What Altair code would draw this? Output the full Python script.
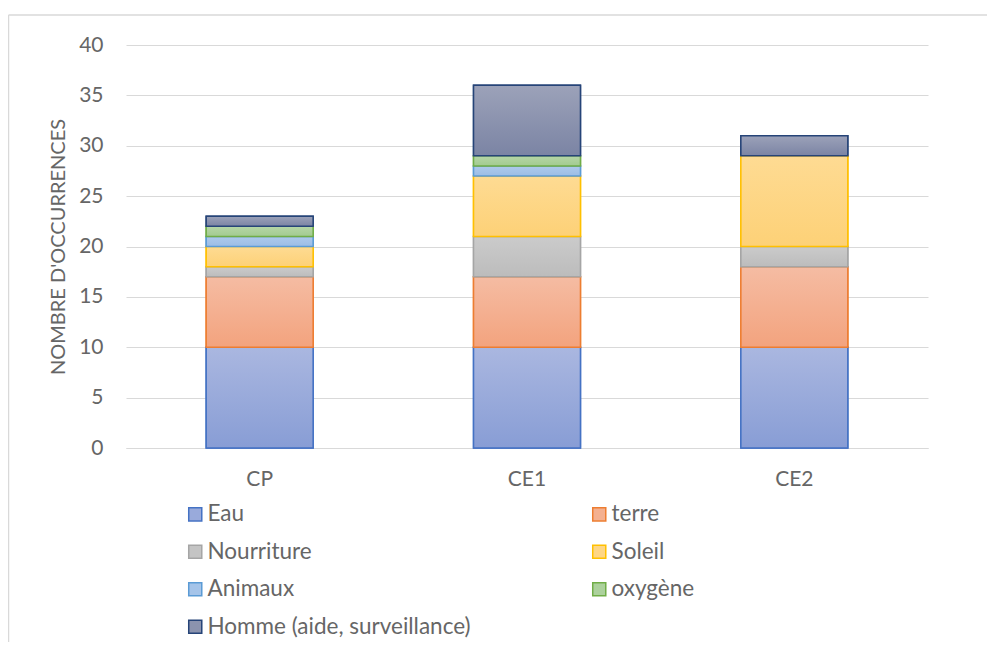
import altair as alt
import pandas as pd

categories = ["CP", "CE1", "CE2"]
series = ["Eau", "terre", "Nourriture", "Soleil", "Animaux", "oxygène", "Homme (aide, surveillance)"]
eau = [10, 10, 10]
terre = [7, 7, 8]
nourriture = [1, 4, 2]
soleil = [2, 6, 9]
animaux = [1, 1, 0]
oxygene = [1, 1, 0]
homme = [1, 7, 2]
values = [eau, terre, nourriture, soleil, animaux, oxygene, homme]

stroke_colors = ["#4472c4", "#ed7d31", "#a5a5a5", "#ffc000", "#5b9bd5", "#70ad47", "#264478"]
top_colors = ["#aab7e0", "#f5bca3", "#cbcbcb", "#fedb93", "#aecaec", "#b6d6a7", "#9ca2b9"]
bottom_colors = ["#889dd5", "#f3a37e", "#bcbcbc", "#fdd177", "#9cbde6", "#a2cb90", "#7b84a4"]
mid_colors = ["#99aadb", "#f4b090", "#c4c4c4", "#fed685", "#a5c4e9", "#acd19c", "#8b93ae"]

rows = []
for i, s in enumerate(series):
    for j, c in enumerate(categories):
        rows.append({"cat": c, "series": s, "value": values[i][j], "order": i})
df = pd.DataFrame(rows)

FONT = "Lato"
GREY = "#666666"
FS = 21
W, H = 802, 403

base = alt.Chart(df).transform_stack(
    stack="value", groupby=["cat"], as_=["y0", "y1"], sort=[alt.SortField("order", order="ascending")]
)

xenc = alt.X("cat:N", sort=categories, title=None,
             scale=alt.Scale(paddingInner=0.6, paddingOuter=0.3),
             axis=alt.Axis(labelAngle=0, ticks=False, domain=True, domainColor="#d9d9d9",
                           labelPadding=20, labelFontSize=FS, labelColor=GREY, labelFont=FONT))
yenc = alt.Y("y0:Q", title="NOMBRE D'OCCURRENCES",
             scale=alt.Scale(domain=[0, 40], nice=False),
             axis=alt.Axis(values=list(range(0, 41, 5)), ticks=False, domain=False,
                           gridColor="#d9d9d9", gridWidth=1.2,
                           labelPadding=23, labelFontSize=FS, labelColor=GREY, labelFont=FONT,
                           titleFontSize=20, titleColor=GREY, titleFont=FONT, titleFontWeight="normal",
                           titlePadding=10))

legend_layer = base.transform_filter("datum.value > 0").mark_bar(strokeWidth=1.5).encode(
    x=xenc,
    y=yenc,
    y2="y1:Q",
    fill=alt.Fill("series:N", scale=alt.Scale(domain=series, range=mid_colors),
                  legend=alt.Legend(title=None, orient="none", legendX=58, legendY=458,
                                    columns=2, direction="horizontal",
                                    symbolType="square", symbolSize=170, symbolStrokeWidth=1.5,
                                    labelFontSize=22.5, labelColor=GREY, labelFont=FONT,
                                    labelOffset=1, rowPadding=14.5, columnPadding=117,
                                    labelLimit=500)),
    stroke=alt.Stroke("series:N", scale=alt.Scale(domain=series, range=stroke_colors), legend=None),
)

layers = [legend_layer]
for i, s in enumerate(series):
    grad = alt.Gradient(
        gradient="linear",
        stops=[alt.GradientStop(color=top_colors[i], offset=0),
               alt.GradientStop(color=bottom_colors[i], offset=1)],
        x1=0, x2=0, y1=0, y2=1,
    )
    layer = base.transform_filter(
        (alt.datum.series == s) & (alt.datum.value > 0)
    ).mark_bar(fill=grad, stroke=stroke_colors[i], strokeWidth=1.5).encode(
        x=alt.X("cat:N", sort=categories),
        y="y0:Q",
        y2="y1:Q",
    )
    layers.append(layer)

frame_top = alt.Chart(pd.DataFrame({"a": [0]})).mark_rule(color="#d9d9d9", strokeWidth=1.5).encode(
    x=alt.value(-117.5), x2=alt.value(W + 80), y=alt.value(-30)
)
frame_left = alt.Chart(pd.DataFrame({"a": [0]})).mark_rule(color="#d9d9d9", strokeWidth=1.5).encode(
    x=alt.value(-117.5), y=alt.value(-30), y2=alt.value(H + 220)
)

chart = alt.layer(*layers, frame_top, frame_left).properties(
    width=W, height=H,
    autosize=alt.AutoSizeParams(type="none"),
    padding={"left": 118, "top": 37, "right": 59, "bottom": 194},
).configure(background="white").configure_view(stroke=None)

chart.save("out.html", embed_options={"renderer": "svg", "actions": False})
